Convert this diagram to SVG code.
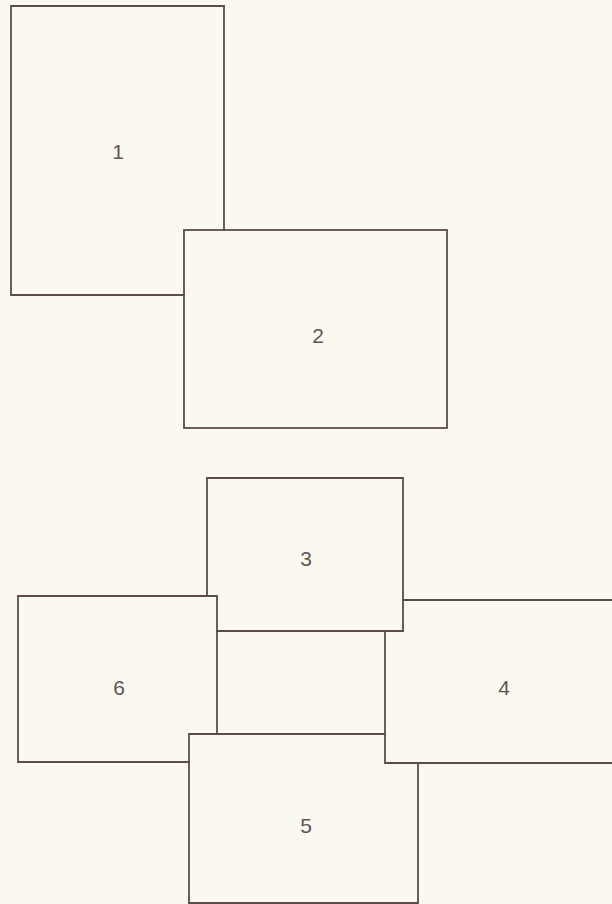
<svg xmlns="http://www.w3.org/2000/svg" width="612" height="904" viewBox="0 0 612 904">
<style>
.e{fill:none;stroke:#5b4c4a;stroke-width:1.8;stroke-linecap:square}
.t{font-family:"Liberation Sans",Arial,sans-serif;font-size:21px;fill:#5e5656;text-anchor:middle;dominant-baseline:central}
</style>
<rect width="612" height="904" fill="#fbf8ef"/>
<g id="n1"><path class="e" d="M184,295 H11 V6 H224 V230"/><text class="t" x="118" y="151">1</text></g>
<g id="n2"><rect class="e" x="184" y="230" width="263" height="198"/><text class="t" x="318" y="335">2</text></g>
<g id="n3"><path class="e" d="M207,596 V478 H403 V631 H217"/><text class="t" x="306" y="558">3</text></g>
<g id="n4"><path class="e" d="M403,600 H613 M385,631 V763 H613"/><text class="t" x="504" y="687">4</text></g>
<g id="n5"><path class="e" d="M385,734 H189 V903 H418 V763"/><text class="t" x="306" y="825">5</text></g>
<g id="n6"><path class="e" d="M189,762 H18 V596 H217 V734"/><text class="t" x="119" y="687">6</text></g>
<g id="connectors"></g>
</svg>
